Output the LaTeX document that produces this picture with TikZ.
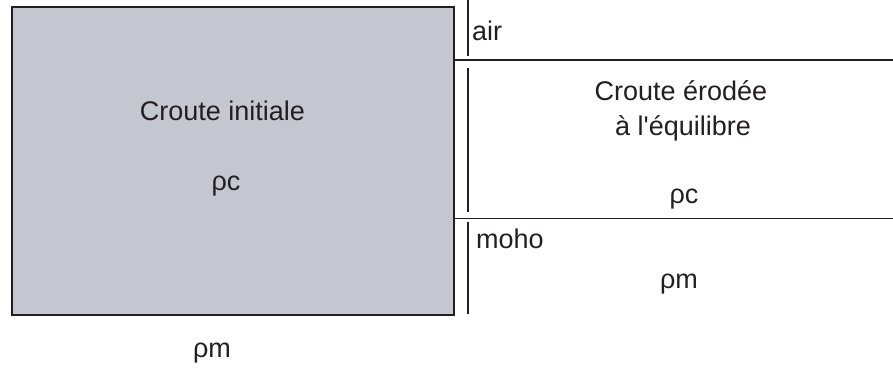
\documentclass[tikz,border=0pt]{standalone}
\usepackage{fontspec}
\setmainfont{Liberation Sans}[Ligatures=TeXOff]
\definecolor{crust}{HTML}{C4C7CF}
\definecolor{ink}{HTML}{231F20}
\begin{document}
\begin{tikzpicture}[x=1pt,y=-1pt,
  lbl/.style={anchor=base, inner sep=0pt, text=ink, font=\fontsize{27}{35}\selectfont},
  rule/.style={draw=ink, line width=1.6pt}]
\useasboundingbox[fill=white] (0,0) rectangle (893,376);
\node[draw=ink, fill=crust, line width=2pt, minimum width=442pt, minimum height=308pt,
      inner sep=0pt, anchor=north west] (init) at (11,6) {};
% vertical separators
\coordinate (v1a) at (468,0);     \coordinate (v1b) at (468,56);
\coordinate (v2a) at (468,67.5);  \coordinate (v2b) at (468,212);
\coordinate (v3a) at (468,222);   \coordinate (v3b) at (468,313.5);
\draw[rule] (v1a) -- (v1b);
\draw[rule] (v2a) -- (v2b);
\draw[rule] (v3a) -- (v3b);
% horizontal boundaries
\coordinate (h1a) at (453,60);  \coordinate (h1b) at (893,60);
\coordinate (h2a) at (455,218.3); \coordinate (h2b) at (893,218.3);
\draw[rule] (h1a) -- (h1b);
\draw[rule] (h2a) -- (h2b);
% labels
\node[lbl] (t1) at (222.5,120.7) {Croute initiale};
\node[lbl] (rc1) at (226,190) {ρc};
\node[lbl] (t2) at (681,100) {Croute érodée};
\node[lbl] (t3) at (683,135) {à l'équilibre};
\node[lbl] (rc2) at (684,203) {ρc};
\node[lbl, anchor=base west] (air) at (472,40) {air};
\node[lbl, anchor=base west] (moho) at (476,248) {moho};
\node[lbl] (rm1) at (679,288) {ρm};
\node[lbl] (rm2) at (212,357) {ρm};
\end{tikzpicture}
\end{document}
